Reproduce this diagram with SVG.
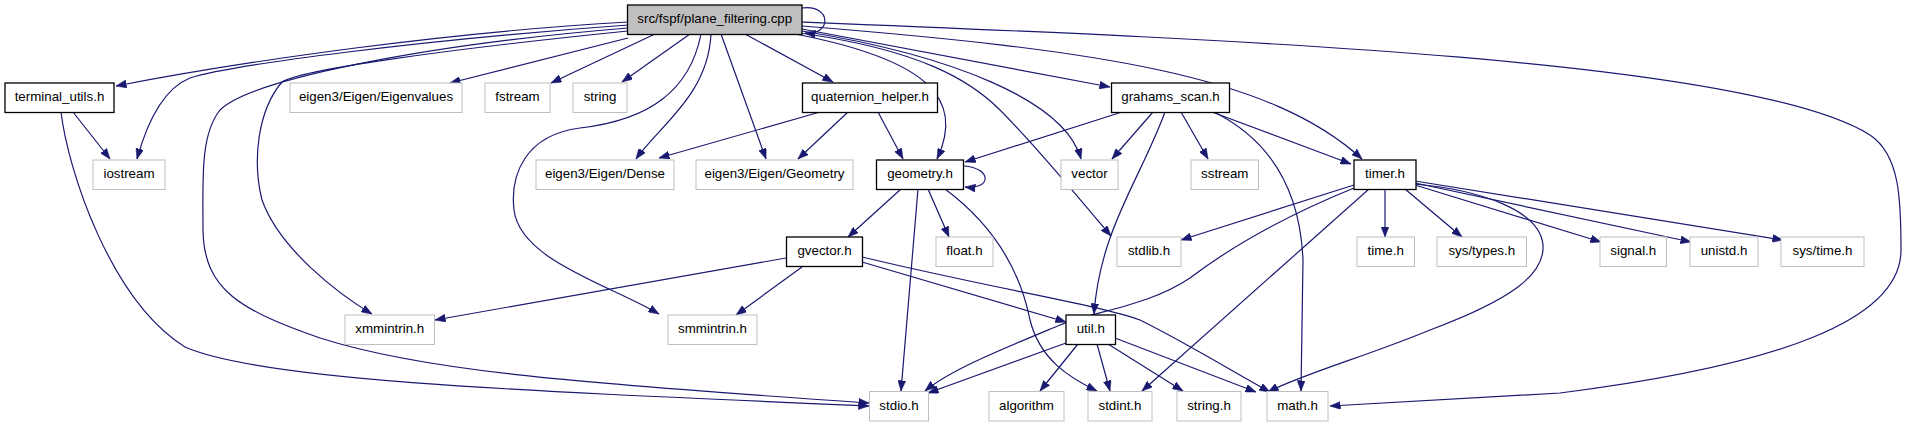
<svg xmlns="http://www.w3.org/2000/svg" width="1907" height="427" viewBox="0 0 1907 427">
<style>
.n rect{fill:#fff;stroke:#bfbfbf;stroke-width:1}
.n.b rect{stroke:#000;stroke-width:1.3}
.n.m rect{fill:#bfbfbf;stroke:#000;stroke-width:1.3}
.n text{font-family:"Liberation Sans",Arial,sans-serif;font-size:13.33px;fill:#000;text-anchor:middle}
#edges path{fill:none;stroke:#191970;stroke-width:1.2;marker-end:url(#ah)}
</style>
<defs>
<marker id="ah" markerUnits="userSpaceOnUse" markerWidth="11" markerHeight="8" refX="10.5" refY="4" orient="auto">
<path d="M0,0 L10.5,4 L0,8 z" fill="#191970" stroke="#191970" stroke-width="0.5"/>
</marker>
</defs>
<rect width="1907" height="427" fill="#fff"/>
<g id="edges">
<path d="M628,22 C450,32 250,60 116,86"/>
<path d="M628,25 C420,40 230,65 190,78 C160,90 145,130 137,159"/>
<path d="M628,28 C420,45 250,80 220,110 C200,135 203,180 203,230 C204,290 240,310 320,338 C420,370 560,382 869,403"/>
<path d="M61,112 C68,170 110,300 185,347 C260,380 500,390 869,406"/>
<path d="M628,31 C440,50 300,70 282,82 C258,110 252,160 262,200 C280,250 340,295 372,314"/>
<path d="M628,38 L450,83"/>
<path d="M655,34 L551,83"/>
<path d="M690,34 L622,82"/>
<path d="M701,34 C690,90 650,120 580,128 C525,135 510,175 514,210 C520,260 610,285 659,314"/>
<path d="M711,34 C708,95 660,125 636,159"/>
<path d="M721,34 L766,159"/>
<path d="M745,34 L833,82"/>
<path d="M795,34 C930,60 965,100 937,159"/>
<path d="M800,33 C920,50 970,80 1000,110 C1040,150 1080,200 1111,236"/>
<path d="M802,31 C950,55 1065,100 1081,159"/>
<path d="M802,29 L1110,87"/>
<path d="M802,26 C1100,50 1270,75 1362,159"/>
<path d="M802,22 C1250,40 1750,60 1870,135 C1900,155 1901,200 1901,250 C1901,320 1780,365 1560,393 L1330,406"/>
<path d="M802,8 C832,4 832,36 805,33"/>
<path d="M73,112 L110,159"/>
<path d="M820,112 L659,158"/>
<path d="M848,112 L798,159"/>
<path d="M878,112 L903,159"/>
<path d="M1122,112 L965,162"/>
<path d="M1153,112 L1112,159"/>
<path d="M1181,112 L1208,159"/>
<path d="M1165,112 C1140,180 1100,230 1094,314"/>
<path d="M1212,112 L1351,164"/>
<path d="M1214,112 C1270,140 1300,190 1303,260 L1301,391"/>
<path d="M964,166 C992,168 992,190 965,187"/>
<path d="M901,189 L848,237"/>
<path d="M918,189 L901,391"/>
<path d="M928,189 L949,237"/>
<path d="M945,189 C1000,230 1022,280 1030,320 C1040,360 1070,378 1097,391"/>
<path d="M786,258 L435,320"/>
<path d="M802,267 L736,315"/>
<path d="M862,262 L1066,322"/>
<path d="M862,257 C1000,290 1100,305 1140,320 C1190,345 1230,370 1270,392"/>
<path d="M1066,343 L928,393"/>
<path d="M1078,344 L1040,391"/>
<path d="M1097,344 L1110,391"/>
<path d="M1108,344 L1183,391"/>
<path d="M1115,338 L1256,392"/>
<path d="M1354,185 L1181,240"/>
<path d="M1354,188 C1300,210 1240,240 1190,278 C1150,305 1100,310 1060,325 C1000,350 950,370 925,391"/>
<path d="M1369,189 L1142,391"/>
<path d="M1385,189 L1385,237"/>
<path d="M1405,189 L1462,237"/>
<path d="M1415,185 L1601,242"/>
<path d="M1415,183 L1691,242"/>
<path d="M1415,181 L1783,240"/>
<path d="M1415,184 C1480,190 1540,210 1543,245 C1545,275 1510,300 1430,330 C1370,355 1300,375 1268,392"/>
</g>
<g id="n_main" class="n m"><rect x="627.5" y="5" width="174.5" height="29.5"/><text x="714.75" y="23">src/fspf/plane_filtering.cpp</text></g>
<g id="n_terminal_utils" class="n b"><rect x="5" y="83" width="109" height="29.5"/><text x="59.5" y="101">terminal_utils.h</text></g>
<g id="n_eigenvalues" class="n"><rect x="290" y="83" width="172" height="29.5"/><text x="376" y="101">eigen3/Eigen/Eigenvalues</text></g>
<g id="n_fstream" class="n"><rect x="485" y="83" width="65" height="29.5"/><text x="517.5" y="101">fstream</text></g>
<g id="n_string" class="n"><rect x="573" y="83" width="54" height="29.5"/><text x="600" y="101">string</text></g>
<g id="n_quaternion" class="n b"><rect x="802.5" y="83" width="135" height="29.5"/><text x="870" y="101">quaternion_helper.h</text></g>
<g id="n_grahams" class="n b"><rect x="1111.5" y="83" width="118" height="29.5"/><text x="1170.5" y="101">grahams_scan.h</text></g>
<g id="n_iostream" class="n"><rect x="93" y="160" width="72" height="29.5"/><text x="129" y="178">iostream</text></g>
<g id="n_dense" class="n"><rect x="536" y="160" width="138" height="29.5"/><text x="605" y="178">eigen3/Eigen/Dense</text></g>
<g id="n_geometry_eigen" class="n"><rect x="696" y="160" width="157" height="29.5"/><text x="774.5" y="178">eigen3/Eigen/Geometry</text></g>
<g id="n_geometry" class="n b"><rect x="876.5" y="160" width="87" height="29.5"/><text x="920" y="178">geometry.h</text></g>
<g id="n_vector" class="n"><rect x="1061" y="160" width="57" height="29.5"/><text x="1089.5" y="178">vector</text></g>
<g id="n_sstream" class="n"><rect x="1191" y="160" width="67.5" height="29.5"/><text x="1224.75" y="178">sstream</text></g>
<g id="n_timer" class="n b"><rect x="1354" y="160" width="62" height="29.5"/><text x="1385" y="178">timer.h</text></g>
<g id="n_gvector" class="n b"><rect x="786.5" y="237" width="76" height="29.5"/><text x="824.5" y="255">gvector.h</text></g>
<g id="n_float" class="n"><rect x="936" y="237" width="57" height="29.5"/><text x="964.5" y="255">float.h</text></g>
<g id="n_stdlib" class="n"><rect x="1117" y="237" width="64" height="29.5"/><text x="1149" y="255">stdlib.h</text></g>
<g id="n_time" class="n"><rect x="1357" y="237" width="57.5" height="29.5"/><text x="1385.75" y="255">time.h</text></g>
<g id="n_systypes" class="n"><rect x="1437" y="237" width="89.5" height="29.5"/><text x="1481.75" y="255">sys/types.h</text></g>
<g id="n_signal" class="n"><rect x="1600" y="237" width="66.5" height="29.5"/><text x="1633.25" y="255">signal.h</text></g>
<g id="n_unistd" class="n"><rect x="1690" y="237" width="68" height="29.5"/><text x="1724" y="255">unistd.h</text></g>
<g id="n_systime" class="n"><rect x="1781" y="237" width="83" height="29.5"/><text x="1822.5" y="255">sys/time.h</text></g>
<g id="n_xmmintrin" class="n"><rect x="345" y="315" width="89.5" height="29.5"/><text x="389.75" y="333">xmmintrin.h</text></g>
<g id="n_smmintrin" class="n"><rect x="668" y="315" width="89" height="29.5"/><text x="712.5" y="333">smmintrin.h</text></g>
<g id="n_util" class="n b"><rect x="1066" y="315" width="49.5" height="29.5"/><text x="1090.75" y="333">util.h</text></g>
<g id="n_stdio" class="n"><rect x="869.5" y="391.5" width="59" height="29.5"/><text x="899" y="409.5">stdio.h</text></g>
<g id="n_algorithm" class="n"><rect x="989" y="391.5" width="75" height="29.5"/><text x="1026.5" y="409.5">algorithm</text></g>
<g id="n_stdint" class="n"><rect x="1088" y="391.5" width="64" height="29.5"/><text x="1120" y="409.5">stdint.h</text></g>
<g id="n_stringh" class="n"><rect x="1177" y="391.5" width="64" height="29.5"/><text x="1209" y="409.5">string.h</text></g>
<g id="n_math" class="n"><rect x="1267" y="391.5" width="61" height="29.5"/><text x="1297.5" y="409.5">math.h</text></g>
</svg>
